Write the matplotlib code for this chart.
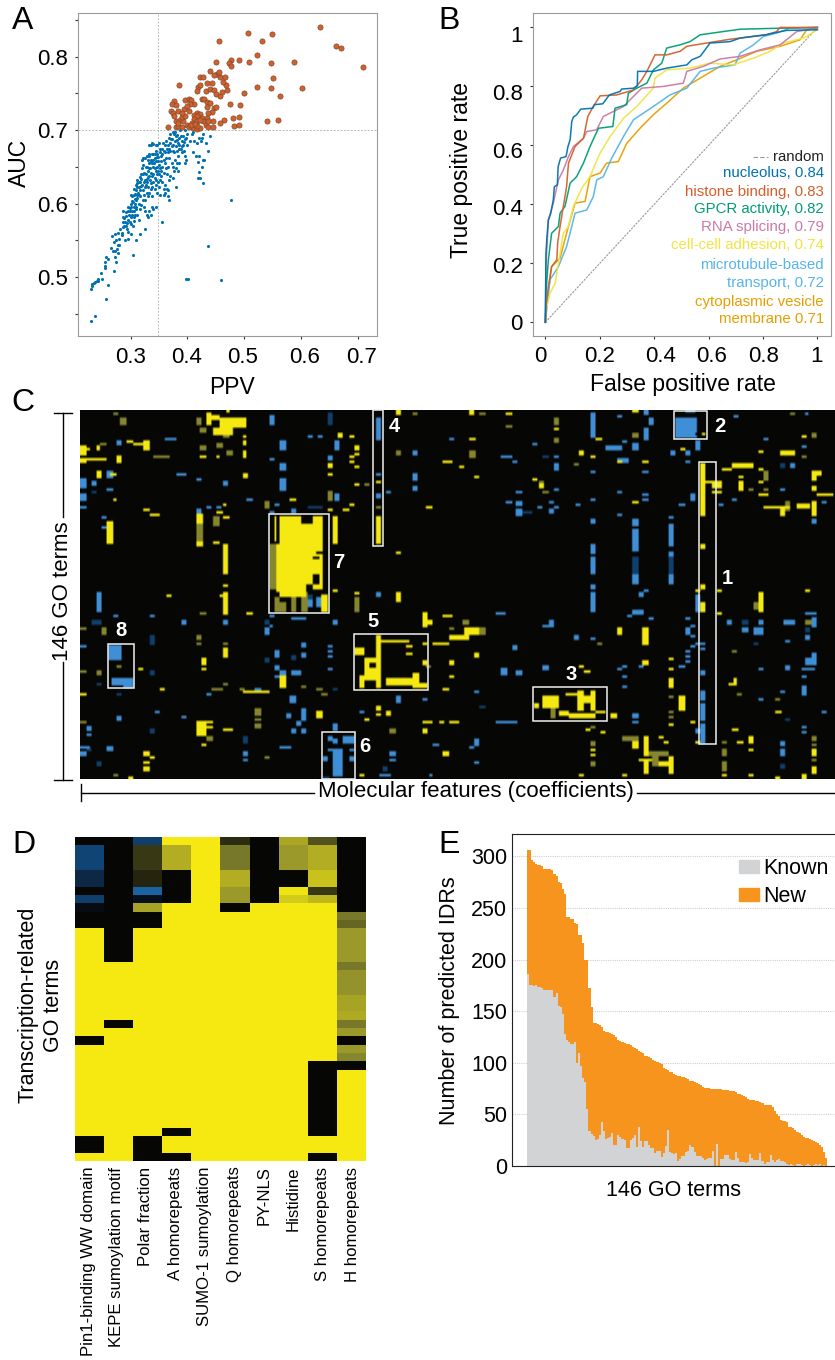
#!/usr/bin/python3

import numpy as np
import matplotlib
matplotlib.use("Agg")
import matplotlib.pyplot as plt
from matplotlib.colors import LinearSegmentedColormap
from matplotlib.lines import Line2D
from matplotlib.patches import Patch, Rectangle
from matplotlib.transforms import ScaledTranslation

W, H = 835, 1360

# panel A, (ppv, auc)
orange_points = [
    (.634, .841), (.662, .814), (.671, .812), (.710, .786), (.506, .833), (.549, .831), (.455, .822), (.531, .822),
    (.523, .803), (.451, .793), (.477, .796), (.473, .792), (.477, .788), (.491, .796), (.508, .793), (.547, .791),
    (.588, .793), (.550, .771), (.523, .759), (.547, .757), (.601, .757), (.563, .747), (.500, .751), (.475, .735),
    (.493, .734), (.480, .716), (.491, .718), (.482, .706), (.491, .707), (.541, .712), (.560, .714), (.465, .714),
    (.458, .710), (.385, .762), (.440, .780), (.422, .772), (.428, .772), (.418, .759), (.422, .762), (.434, .764),
    (.443, .764), (.416, .753), (.433, .754), (.440, .756), (.447, .755), (.450, .749), (.458, .747), (.461, .752),
    (.470, .755), (.468, .762), (.462, .766), (.458, .772), (.467, .772), (.452, .777), (.446, .775), (.455, .779),
    (.425, .742), (.429, .743), (.434, .739), (.440, .737), (.435, .731), (.446, .730), (.450, .731), (.443, .725),
    (.437, .723), (.376, .740), (.372, .735), (.380, .734), (.371, .726), (.374, .724), (.384, .726), (.376, .720),
    (.394, .729), (.396, .741), (.402, .742), (.406, .741), (.411, .736), (.405, .736), (.400, .733), (.402, .726),
    (.416, .724), (.422, .722), (.411, .721), (.416, .719), (.412, .715), (.408, .710), (.417, .712), (.425, .716),
    (.434, .716), (.445, .713), (.366, .705), (.379, .705), (.383, .706), (.390, .705), (.380, .713), (.387, .714),
    (.393, .712), (.390, .718), (.396, .719), (.384, .710), (.399, .707), (.403, .705), (.409, .703), (.417, .701),
    (.422, .703), (.428, .712), (.433, .707), (.436, .704), (.445, .704), (.436, .713), (.391, .723), (.406, .707),
    (.416, .706), (.413, .709), (.422, .714),
]
blue_points = [
    (.476, .605), (.436, .542), (.459, .496), (.397, .497), (.401, .498), (.356, .575), (.304, .530), (.270, .508),
    (.256, .470), (.237, .447), (.230, .440), (.260, .489), (.250, .497), (.247, .505), (.230, .484), (.231, .488),
    (.232, .490), (.236, .492), (.238, .493), (.240, .494), (.242, .495), (.243, .497), (.255, .520), (.255, .515),
    (.256, .527), (.260, .525), (.255, .512), (.265, .540), (.267, .556), (.268, .535), (.272, .527), (.273, .535),
    (.275, .520), (.276, .538), (.277, .533), (.270, .548), (.275, .550), (.277, .543), (.280, .543), (.280, .552),
    (.284, .557), (.285, .560), (.278, .560), (.281, .565), (.273, .558), (.287, .568), (.290, .550), (.295, .552),
    (.300, .558), (.310, .550), (.316, .558), (.325, .565), (.286, .590), (.287, .582), (.289, .580), (.290, .575),
    (.292, .570), (.294, .565), (.296, .562), (.288, .570), (.292, .583), (.295, .578), (.297, .585), (.298, .575),
    (.300, .582), (.300, .572), (.302, .590), (.304, .570), (.306, .577), (.306, .590), (.308, .585), (.295, .595),
    (.298, .590), (.300, .600), (.302, .603), (.305, .595), (.307, .600), (.309, .605), (.310, .595), (.312, .585),
    (.314, .578), (.300, .612), (.303, .610), (.306, .612), (.308, .613), (.310, .618), (.312, .608), (.314, .600),
    (.316, .592), (.305, .620), (.309, .625), (.311, .628), (.313, .615), (.315, .622), (.317, .610), (.319, .598),
    (.321, .605), (.323, .595), (.325, .590), (.328, .585), (.330, .582), (.333, .590), (.336, .585), (.340, .592),
    (.345, .596), (.338, .595), (.312, .632), (.314, .630), (.316, .636), (.318, .640), (.320, .625), (.322, .618),
    (.324, .612), (.326, .605), (.328, .615), (.330, .610), (.320, .648), (.322, .652), (.322, .662), (.317, .630),
    (.325, .632), (.327, .625), (.329, .630), (.331, .622), (.333, .615), (.335, .620), (.337, .610), (.327, .640),
    (.330, .645), (.332, .638), (.334, .632), (.336, .628), (.338, .622), (.340, .630), (.342, .620), (.344, .625),
    (.346, .615), (.329, .650), (.332, .655), (.334, .648), (.336, .642), (.338, .638), (.340, .640), (.342, .635),
    (.344, .632), (.346, .640), (.348, .630), (.350, .622), (.352, .612), (.358, .620), (.360, .615), (.333, .665),
    (.336, .660), (.338, .655), (.340, .650), (.342, .648), (.344, .645), (.346, .650), (.348, .645), (.350, .640),
    (.352, .632), (.354, .638), (.356, .630), (.360, .625), (.340, .668), (.342, .662), (.344, .658), (.346, .663),
    (.348, .658), (.350, .652), (.352, .648), (.354, .645), (.356, .650), (.358, .642), (.347, .680), (.350, .682),
    (.344, .680), (.352, .670), (.354, .665), (.356, .668), (.358, .660), (.360, .655), (.362, .648), (.364, .640),
    (.360, .680), (.362, .685), (.364, .675), (.366, .680), (.368, .690), (.370, .683), (.372, .678), (.374, .672),
    (.376, .695), (.378, .685), (.380, .678), (.382, .672), (.384, .665), (.386, .655), (.372, .655), (.374, .650),
    (.376, .645), (.378, .660), (.380, .648), (.382, .655), (.384, .645), (.368, .662), (.366, .650), (.368, .632),
    (.370, .638), (.366, .618), (.368, .605), (.364, .620), (.358, .612), (.366, .610), (.380, .623), (.374, .635),
    (.370, .695), (.374, .697), (.378, .697), (.382, .693), (.386, .690), (.390, .685), (.392, .680), (.394, .672),
    (.396, .665), (.398, .660), (.386, .680), (.388, .675), (.390, .670), (.392, .692), (.396, .688), (.400, .695),
    (.404, .685), (.408, .695), (.412, .685), (.416, .682), (.420, .690), (.424, .685), (.428, .695), (.432, .683),
    (.436, .672), (.440, .692), (.400, .680), (.410, .670), (.425, .690), (.430, .660), (.415, .665), (.420, .665),
    (.418, .657), (.428, .660), (.425, .650), (.418, .635), (.421, .643), (.422, .635), (.427, .628), (.395, .655),
    (.396, .700), (.387, .700), (.410, .698), (.333, .680), (.335, .680), (.337, .682), (.340, .681), (.332, .668),
    (.325, .662), (.320, .660), (.328, .665), (.287, .575), (.291, .588), (.293, .574), (.296, .590), (.299, .594),
    (.301, .596), (.303, .584), (.304, .602), (.305, .582), (.307, .606), (.309, .592), (.311, .612), (.312, .622),
    (.314, .612), (.316, .618), (.318, .624), (.319, .634), (.321, .640), (.323, .630), (.324, .642), (.326, .622),
    (.327, .650), (.328, .634), (.330, .636), (.331, .660), (.333, .648), (.335, .656), (.337, .668), (.339, .660),
    (.341, .655), (.343, .668), (.345, .672), (.347, .668), (.349, .664), (.351, .675), (.353, .658), (.355, .674),
    (.357, .682), (.359, .672), (.361, .670), (.363, .662), (.365, .670), (.367, .674), (.369, .672), (.371, .688),
    (.373, .688), (.375, .680), (.377, .670), (.379, .692), (.381, .686), (.383, .682), (.385, .674), (.388, .692),
    (.391, .678), (.394, .684), (.398, .690),
]

# panel B, (fpr, tpr)
roc_nucleolus = [
    (0, 0), (.002, .234), (.006, .291), (.011, .347), (.02, .37), (.029, .415), (.033, .46), (.044, .466),
    (.047, .528), (.056, .557), (.076, .562), (.083, .596), (.091, .619), (.097, .681), (.103, .696), (.115, .704),
    (.13, .723), (.174, .726), (.18, .738), (.211, .741), (.235, .771), (.275, .783), (.28, .791), (.324, .794),
    (.338, .802), (.339, .851), (.397, .851), (.446, .862), (.52, .873), (.538, .89), (.569, .902), (.587, .924),
    (.605, .947), (.679, .952), (.716, .964), (.808, .975), (.887, .99), (1, .992),
]
roc_histone = [
    (0, 0), (.002, .053), (.011, .121), (.023, .189), (.042, .212), (.045, .268), (.054, .325), (.066, .393),
    (.078, .46), (.085, .54), (.109, .596), (.14, .624), (.156, .698), (.176, .732), (.201, .768), (.262, .771),
    (.324, .788), (.354, .822), (.373, .851), (.403, .907), (.446, .907), (.495, .919), (.52, .936), (.605, .949),
    (.679, .96), (.814, .975), (.85, .986), (.863, 1), (1, 1),
]
roc_gpcr = [
    (0, 0), (.002, .098), (.011, .212), (.023, .302), (.048, .325), (.054, .37), (.072, .393), (.091, .472),
    (.115, .494), (.14, .54), (.164, .596), (.195, .658), (.248, .664), (.256, .726), (.299, .738), (.305, .777),
    (.336, .794), (.373, .811), (.397, .856), (.428, .879), (.446, .93), (.495, .941), (.532, .952), (.569, .975),
    (.63, .983), (.716, .994), (.887, .998), (1, 1),
]
roc_splicing = [
    (0, 0), (.002, .189), (.011, .347), (.029, .404), (.048, .483), (.066, .517), (.085, .562), (.103, .596),
    (.14, .624), (.152, .647), (.189, .653), (.213, .698), (.25, .715), (.287, .732), (.324, .766), (.354, .794),
    (.434, .8), (.507, .811), (.52, .851), (.581, .868), (.642, .893), (.716, .902), (.789, .924), (.863, .941),
    (.924, .986), (1, .998),
]
roc_adhesion = [
    (0, 0), (.002, .042), (.017, .098), (.036, .132), (.054, .234), (.066, .302), (.085, .325), (.103, .393),
    (.134, .455), (.164, .494), (.201, .574), (.238, .63), (.287, .692), (.336, .732), (.397, .794), (.403, .828),
    (.446, .856), (.532, .862), (.605, .879), (.691, .873), (.765, .896), (.826, .919), (.875, .947), (.949, .964),
    (1, .992),
]
roc_microtubule = [
    (0, 0), (.002, .019), (.017, .144), (.048, .189), (.078, .257), (.097, .325), (.109, .37), (.152, .381),
    (.176, .426), (.189, .483), (.213, .494), (.244, .557), (.287, .63), (.324, .687), (.397, .732), (.458, .771),
    (.52, .794), (.569, .851), (.618, .862), (.697, .873), (.716, .913), (.765, .941), (.801, .969), (.85, .981),
    (.9, .998), (1, 1),
]
roc_vesicle = [
    (0, 0), (.002, .042), (.023, .189), (.054, .217), (.078, .302), (.109, .404), (.146, .41), (.164, .494),
    (.201, .506), (.225, .54), (.268, .545), (.299, .607), (.348, .658), (.397, .704), (.446, .743), (.507, .794),
    (.569, .828), (.642, .868), (.703, .89), (.777, .919), (.863, .936), (.936, .958), (.961, .992), (1, 1),
]
roc_names = [
    "nucleolus, 0.84", "histone binding, 0.83", "GPCR activity, 0.82", "RNA splicing, 0.79",
    "cell-cell adhesion, 0.74", "microtubule-based", "transport, 0.72", "cytoplasmic vesicle", "membrane 0.71",
]

# panel C, blocks of cells as (col0, col1, row0, row1), half open
c_cols, c_rows = 227, 146
c_yellow = [
    (38, 39.5, 1, 6), (39, 42, 2, 4), (42, 50, 3, 7), (46, 50, 3, 6), (40, 46, 7, 10), (44, 45, 0, 1), (49, 50, 10, 11),
    (49, 50, 12, 14), (49, 50, 16, 19), (41, 42, 18, 19), (36, 38, 18, 19), (0, 2, 14, 18), (2, 3, 15, 16), (5, 6, 14, 16),
    (0, 8, 19, 20), (0, 2, 20, 21), (11, 12.5, 18, 21), (14, 16, 12, 13), (16, 19, 13, 14), (19, 21, 12, 16), (5, 6.5, 24, 27),
    (9, 11, 25, 26), (49, 50.5, 25, 27), (19, 21, 39, 40), (21, 24, 41, 42), (10, 11, 35, 36), (8, 10, 44, 53), (35, 37, 41, 45),
    (35, 37, 52, 54), (41, 43, 40, 41), (43, 45, 42, 43), (43, 44, 37, 38), (40, 42, 52, 53), (43, 44.5, 53, 65), (43, 44.5, 69, 70),
    (43, 44.5, 72, 81), (42, 43, 73, 74), (26, 27.5, 73, 74), (50, 52, 80, 81), (60, 73, 42, 71), (58.5, 60, 42, 52), (59, 60, 53, 72),
    (60, 68, 71, 74), (72.5, 74.5, 73, 80), (76, 77.5, 42, 53), (76, 77.5, 71, 72), (82.5, 84, 72, 73), (95, 96.5, 72, 76), (95, 96.5, 56, 57),
    (89, 90.5, 42, 53), (89, 90.5, 28, 29), (95, 96.5, 0, 2), (74.5, 76, 21, 23), (74.5, 76, 25, 26), (77.5, 79, 9, 11), (81, 82.5, 10, 11),
    (82.5, 84, 14, 16), (82.5, 84, 17, 18), (81, 82.5, 18, 19), (81, 82.5, 20, 21), (82.5, 84, 22, 23), (82.5, 84, 29, 30), (81, 82.5, 37, 38),
    (79, 81, 39, 40), (74.5, 76, 39, 40), (63, 65, 35, 36), (17.5, 19, 102, 103), (0, 2, 112, 113), (24, 25.5, 110, 111), (35, 38, 123, 129),
    (38, 40, 123, 124), (38, 40, 125, 126), (43, 46, 126, 127), (36.5, 38, 132, 133), (19, 21, 135, 137), (21, 22.5, 137, 138), (19, 21, 139, 140),
    (19, 21, 141, 143), (14.5, 16, 145, 146), (36.5, 38, 98, 101), (36.5, 38, 102, 103), (43, 44.5, 94, 98), (49, 57, 111, 112), (60, 62, 105, 110),
    (71, 73, 119, 122), (89, 90.5, 117, 119), (89, 90.5, 120, 121), (85.5, 87, 122, 123), (92, 93.5, 119, 121), (84, 85.5, 144, 145),
    (89, 90.5, 89, 110), (85.5, 89, 98, 107), (82.5, 85.5, 94, 97), (90, 99, 91, 92), (92, 102, 106, 109), (98, 100, 93, 94), (98, 100, 96, 97),
    (100, 102, 104, 110), (84, 85.5, 105, 110), (103, 104.5, 92, 93), (103, 104.5, 99, 101), (102, 104.5, 108, 110),
    (117, 118.5, 0, 2), (128, 130, 1, 2), (142.5, 144, 7, 8), (166, 168, 0, 1), (117, 119, 11, 12), (109, 112, 20, 21), (114, 115.5, 22, 23),
    (118.5, 120, 26, 27), (104, 106, 38, 39), (136, 137.5, 27, 28), (138, 139.5, 29, 31), (150, 151.5, 16, 18), (153.5, 155, 18, 19), (155, 157, 11, 12),
    (161.5, 163, 20, 21), (169, 171, 20, 21), (166, 168, 36, 37), (180.5, 182, 15, 16), (186.5, 188, 9, 10), (186.5, 188, 21, 42), (188, 191, 28, 29),
    (190, 193, 28, 31), (190, 193, 32, 33), (186.5, 188, 53, 55), (186.5, 188, 69, 71), (185, 186.5, 71, 72), (191.5, 193, 71, 72), (186.5, 188, 76, 80),
    (191.5, 193, 80, 81), (196, 202.5, 21, 23), (193, 196, 23, 24), (198, 199.5, 26, 27), (198, 199.5, 28, 32), (204, 205.5, 23, 24), (204, 205.5, 28, 29),
    (204, 207, 33, 34), (204, 205.5, 16, 17), (205.5, 213.5, 38, 39), (210.5, 212, 38, 42), (215.5, 219.5, 37, 39), (220, 221.5, 36, 42), (210.5, 215, 16, 18),
    (220, 223, 24, 26), (220, 221.5, 26, 28), (220, 221.5, 30, 32), (221.5, 226.5, 33, 34), (217, 218.5, 10, 11), (103, 104.5, 80, 86), (104.5, 106, 83, 85),
    (109, 112, 81, 82), (111, 117, 89, 91), (115.5, 120, 86, 89), (106, 111, 92, 93), (118.5, 120, 96, 98), (111, 112.5, 99, 101), (111, 112.5, 105, 106),
    (109, 111, 110, 111), (161.5, 163, 86, 89), (169, 171, 86, 93), (169, 171, 99, 101), (150, 151.5, 101, 102), (151.5, 153.5, 103, 104),
    (139, 144, 113, 118), (144, 147, 119, 121), (147, 155, 120, 122), (149.5, 151.5, 111, 119), (153.5, 155, 111, 119), (151.5, 153.5, 113, 116),
    (155, 158, 119, 120), (146, 149.5, 112, 113), (136.5, 138, 116, 118), (159.5, 161.5, 120, 122), (103, 106, 123, 124), (108, 109.5, 123, 124),
    (111, 114, 123, 124), (103, 104.5, 126, 128), (109, 111, 135, 137), (152, 153.5, 126, 127), (156.5, 158, 127, 128), (153.5, 155, 134, 135),
    (153.5, 155, 136, 137), (150, 151.5, 144, 145), (163, 164.5, 144, 145), (166, 168, 131, 134), (169.5, 171, 129, 137), (168, 172, 138, 139),
    (169.5, 171, 139, 144), (174, 177, 139, 141), (177, 178.5, 137, 144), (174, 175.5, 129, 130), (175.5, 177, 131, 132), (177, 178.5, 98, 99),
    (177, 178.5, 102, 103), (177, 178.5, 106, 110), (180, 182, 113, 119), (177, 178.5, 124, 125), (183.5, 185, 123, 124), (185, 186.5, 131, 132),
    (196.5, 197.5, 106, 108), (195, 197.5, 108, 109), (204, 205.5, 72, 80), (218, 219.5, 71, 72), (209, 211, 119, 120), (196, 198, 126, 127),
    (197.5, 199.5, 131, 132), (201, 202.5, 129, 132), (201, 202.5, 134, 135), (201, 202.5, 144, 145), (193, 194.5, 144, 145), (209, 210.5, 145, 146),
    (220, 221.5, 134, 137), (220, 221.5, 141, 144), (217, 218.5, 144, 146),
]
c_olive = [
    (43, 45, 9, 11), (35, 36.5, 3, 6), (36, 38, 7, 9), (36, 38, 14, 16), (41, 43, 13, 15), (44, 46, 16, 18), (12, 14, 3, 6), (10, 11.5, 1, 2), (6, 8, 13, 14),
    (22, 27, 18, 19), (35, 37, 45, 52), (40, 42, 42, 46), (36, 38, 80, 81), (57, 59, 53, 71), (58.5, 62, 74, 80), (63.5, 65, 71, 80), (66.5, 68.5, 72, 80),
    (82.5, 84, 74, 80), (95, 96.5, 16, 18), (89, 90.5, 38, 39), (100, 101.5, 1, 2), (74.5, 76, 32, 36), (55.5, 57, 36, 39), (85.5, 87, 29, 30), (0, 2, 86, 87),
    (6.5, 8, 86, 89), (0, 2, 103, 104), (5, 6.5, 103, 105), (11, 12.5, 101, 102), (38, 40, 129, 131), (0, 2, 123, 124), (10, 11.5, 144, 145), (35, 36.5, 89, 91),
    (35, 36.5, 92, 93), (43, 44.5, 92, 93), (43, 44.5, 108, 109), (39.5, 43, 110, 111), (48, 49.5, 110, 111), (66.5, 68, 109, 110), (71, 73, 110, 111),
    (72.5, 74.5, 112, 113), (52.5, 54.5, 118, 121), (52.5, 54.5, 122, 123), (52.5, 54.5, 124, 126), (55.5, 57, 137, 138), (93, 95, 126, 128), (141.5, 143, 118, 122),
    (120, 122, 1, 2), (128, 130, 6, 7), (142.5, 144, 3, 6), (142.5, 144, 11, 13), (166, 168, 9, 11), (117, 119, 16, 19), (138, 139.5, 28, 29), (139, 141, 32, 33),
    (148.5, 150, 21, 22), (201, 202.5, 31, 32), (205.5, 207, 24, 28), (205.5, 207, 31, 32), (212, 213.5, 36, 40), (213.5, 215, 1, 2), (220, 221.5, 9, 11),
    (217, 218.5, 18, 19), (186.5, 188, 76, 80), (120, 122, 86, 89), (111, 112.5, 86, 87), (115, 117, 83, 85), (155.5, 157, 92, 93), (104, 105.5, 101, 102),
    (163, 168, 129, 131), (171, 177, 135, 137), (172, 174, 137, 141), (177, 178.5, 113, 114), (177, 178.5, 119, 120), (177, 178.5, 121, 122), (153.5, 155, 125, 126),
    (153.5, 155, 131, 133), (153.5, 155, 139, 141), (202.5, 204, 76, 79), (218, 221, 83, 85), (193, 194.5, 131, 132), (193, 194.5, 134, 137), (193, 194.5, 139, 143),
    (220, 221.5, 129, 131), (220, 221.5, 132, 133), (220, 221.5, 138, 139), (196, 197.5, 95, 96), (197.5, 199, 112, 113), (209, 210.5, 114, 115),
]
c_dark = [
    (74.5, 76, 1, 6), (73, 75, 145, 146), (68.5, 73, 38, 39), (3.5, 6.5, 83, 85), (3.5, 5, 32, 33), (21, 22.5, 89, 93), (55.5, 57, 83, 85), (55.5, 57, 98, 100),
    (63.5, 65, 97, 99), (21, 22.5, 103, 105), (5, 6.5, 108, 109), (11, 12.5, 112, 113), (76, 77.5, 110, 111), (49, 50.5, 129, 132), (21, 22.5, 126, 128),
    (2, 3.5, 134, 135), (5, 6.5, 139, 141), (91, 92.5, 141, 143), (68.5, 70, 73, 78), (139, 141, 18, 19), (133, 136, 40, 41), (166, 168, 58, 65),
    (177, 178.5, 58, 65), (120, 122, 117, 118), (199, 201, 83, 85), (218, 219.5, 86, 88), (202.5, 204, 92, 93), (210.5, 212, 21, 23), (210.5, 212, 140, 142),
    (212, 213.5, 122, 123),
]
c_blue = [
    (57, 58.5, 2, 6), (60, 62, 12, 16), (60, 62, 21, 24), (60, 62, 27, 32), (57, 58.5, 19, 20), (76.5, 78, 12, 16), (74.5, 76, 18, 20), (76.5, 78, 33, 36),
    (68.5, 70, 10, 11), (71.5, 73, 10, 11), (89, 90.5, 3, 12), (89, 90.5, 25, 26), (89, 90.5, 33, 35), (100, 101.5, 16, 18), (100, 101.5, 25, 28), (100, 101.5, 30, 32),
    (92, 93.5, 32, 33), (0, 2, 27, 31), (0, 2, 33, 36), (0, 2, 38, 39), (3.5, 5, 28, 30), (8, 10, 24, 27), (8, 10, 31, 32), (11, 12.5, 12, 14), (29, 32, 25, 26),
    (25.5, 29, 11, 12), (35, 36.5, 27, 28), (43, 44.5, 28, 30), (50, 52, 35, 36), (35, 36.5, 39, 41), (38, 39.5, 38, 39), (41, 42.5, 38, 39), (58.5, 60, 37, 38),
    (57, 58.5, 40, 41), (63.5, 65, 39, 41), (6.5, 8, 42, 43), (6.5, 8.5, 46, 47), (5, 6.5, 72, 80), (10, 11.5, 81, 82), (21, 22.5, 81, 82), (30.5, 32, 83, 85),
    (43, 44.5, 83, 85), (55.5, 57, 86, 89), (57, 58, 85, 86), (57, 58.5, 81, 82), (63.5, 68, 82, 83), (76, 77.5, 83, 85), (89, 90.5, 72, 74), (0, 2, 93, 94),
    (8.5, 12.5, 93, 99), (9.5, 16, 106, 109), (13, 16, 109, 110), (58.5, 60, 95, 98), (58.5, 60, 101, 103), (58.5, 60, 105, 106), (60, 62, 103, 105), (63.5, 66.5, 103, 105),
    (66.5, 68, 92, 94), (66.5, 68, 96, 98), (74.5, 76, 93, 94), (74.5, 76, 95, 96), (74.5, 76, 97, 98), (74.5, 76, 102, 103), (38, 39.5, 112, 113), (52.5, 54.5, 110, 111),
    (63, 65, 113, 116), (95, 96.5, 113, 116), (66.5, 68, 118, 123), (65, 66.5, 123, 125), (63.5, 65, 126, 128), (66.5, 68, 126, 128), (62, 63.5, 120, 122),
    (11, 12.5, 121, 123), (22.5, 24, 119, 120), (30.5, 32, 121, 122), (76, 77.5, 124, 127), (2, 3.5, 125, 127), (2, 3.5, 128, 129), (0, 3, 133, 134), (0, 2, 135, 137),
    (8, 10, 133, 135), (49, 50.5, 135, 137), (49, 50.5, 138, 139), (60, 63.5, 133, 134), (74.5, 76, 129, 131), (79, 82.5, 129, 132), (76, 77.5, 130, 132), (74.5, 79, 134, 135),
    (76, 79, 135, 145), (73, 74.5, 137, 139), (81, 82.5, 134, 135), (81, 82.5, 137, 139), (93, 95, 135, 137), (93, 95, 138, 139), (90, 93.5, 144, 145), (84, 85.5, 119, 120),
    (68.5, 70, 75, 78), (71, 72.5, 74, 78),
    (153.5, 155, 1, 11), (161.5, 163, 2, 3), (169.5, 171, 0, 2), (171, 172.5, 3, 6), (169.5, 171, 7, 12), (166, 168, 13, 16), (158, 163, 14, 16), (163, 164.5, 12, 13),
    (111, 112.5, 11, 12), (136, 137.5, 13, 14), (126.5, 130, 18, 19), (130, 131.5, 20, 21), (142.5, 144, 18, 19), (142.5, 144, 21, 24), (153.5, 155, 24, 25), (161.5, 165, 19, 21),
    (169, 171, 24, 25), (142.5, 144, 31, 32), (131, 133, 32, 33), (128, 130, 36, 37), (131, 133, 36, 38), (131, 133, 39, 42), (137.5, 139, 38, 39), (141, 142.5, 36, 37),
    (141, 142.5, 39, 41), (142.5, 144, 38, 39), (149, 150.5, 37, 38), (153.5, 155, 35, 36), (161.5, 163, 32, 33), (161.5, 163, 41, 42), (169, 171, 33, 34), (169, 171, 35, 36),
    (183.5, 185, 33, 36), (180, 182, 37, 38), (153.5, 155, 43, 45), (153.5, 155, 53, 57), (153.5, 155, 58, 65), (153.5, 155, 69, 71), (153.5, 155, 72, 80), (166, 168, 43, 46),
    (166, 168, 47, 56), (166, 168, 65, 69), (168, 169.5, 72, 74), (169.5, 171, 71, 72), (177, 178.5, 42, 43), (177, 178.5, 45, 54), (177, 178.5, 56, 58), (177, 178.5, 65, 69),
    (185, 186.5, 73, 80), (166, 169.5, 79, 81), (164.5, 166, 81, 82), (171, 172.5, 82, 83), (125, 128, 80, 81), (139, 142.5, 85, 86), (141, 142.5, 83, 85), (148.5, 150, 89, 91),
    (153.5, 155, 90, 91), (130, 131.5, 93, 95), (126.5, 128.5, 102, 105), (131, 133, 103, 105), (139, 141, 101, 103), (182, 183.5, 86, 89), (183.5, 185, 85, 86), (182, 183.5, 82, 83),
    (183.5, 185, 89, 90), (185, 186.5, 92, 93), (183.5, 185, 93, 94), (182, 183.5, 95, 96), (182, 183.5, 97, 98), (182, 183.5, 99, 100), (186.5, 188, 92, 93), (186.5, 188, 94, 95),
    (186.5, 188, 103, 105), (186.5, 188, 111, 115), (186.5, 188, 116, 123), (186.5, 188, 124, 132), (185, 186.5, 126, 128), (180, 182, 101, 102), (163, 164.5, 101, 102),
    (161.5, 163, 102, 103), (163, 164.5, 105, 106), (163, 164.5, 109, 110), (168, 169.5, 101, 102), (118.5, 120, 111, 112), (125, 131.5, 123, 124), (166, 168, 120, 122),
    (166, 168, 123, 124), (103, 104.5, 114, 115), (118.5, 120, 130, 133), (117, 118.5, 133, 134), (106, 108, 132, 133), (118.5, 120, 139, 140), (105, 106, 144, 145),
    (194.5, 196, 83, 85), (199, 201, 86, 88), (202.5, 205.5, 86, 89), (204, 205.5, 83, 85), (211.5, 215, 83, 85), (212, 213.5, 91, 92), (218, 221.5, 80, 81), (220, 221.5, 82, 86),
    (218, 219.5, 89, 91), (218, 221.5, 98, 101), (220, 221.5, 96, 98), (217, 221, 102, 103), (212, 213.5, 101, 103), (204, 205.5, 102, 103), (217, 218.5, 105, 106), (217, 218.5, 109, 113),
    (204, 205.5, 114, 115), (210.5, 212, 111, 112), (223, 224.5, 119, 120), (217, 218.5, 125, 126), (217, 218.5, 127, 128), (210.5, 212, 131, 133), (210.5, 212, 134, 137),
    (213.5, 215, 21, 23), (205.5, 207, 11, 12), (210.5, 212, 31, 32), (223, 224.5, 36, 37), (220, 221.5, 43, 45), (196, 197.5, 35, 36), (192, 193.5, 37, 38), (196.5, 198, 2, 3),
    (218, 219, 1, 2), (217, 218.5, 14, 15), (179, 185.5, 3, 11), (182, 185, 0, 1), (185, 186.5, 12, 16), (177.5, 179, 16, 18), (182, 183.5, 16, 18), (182, 183.5, 20, 21),
]
c_black = [
    (66.5, 70, 42, 45), (70, 72, 58, 59), (71, 73, 56, 57), (70, 72, 65, 69), (68, 70, 69, 71), (59, 60, 42, 53), (58.5, 60, 72, 74), (60, 62, 74, 76), (87, 89, 100, 102),
    (185, 186, 9, 10), (185.5, 187, 8, 11),
]
c_boxes = [
    (56.7, 74.8, 41, 80.5), (88.1, 91, 0, 54), (8.5, 16.3, 92.5, 110), (82.4, 104.6, 88.7, 110.6),
    (72.8, 82.7, 127.3, 146), (136.2, 158.5, 109.5, 123), (178.6, 188.6, 0.3, 11.6), (186, 191.2, 20.7, 132.3),
]
c_box_numbers = ["7", "4", "8", "5", "6", "3", "2", "1"]

# panel D, one list per feature, top row first
d_features = [
    "Pin1-binding WW domain", "KEPE sumoylation motif", "Polar fraction", "A homorepeats", "SUMO-1 sumoylation",
    "Q homorepeats", "PY-NLS", "Histidine", "S homorepeats", "H homorepeats",
]
d_pin1 = [0, -.45, -.45, -.45, -.25, -.25, 0, -.4, -.05, 0, 0] + [1] * 13 + [0] + [1] * 11 + [0, 0] + [1]
d_kepe = [0] * 15 + [1] * 7 + [0] + [1] * 16
d_polar = [-.4, .2, .2, .2, .12, .12, -.7, -.08, .65, 0, 0] + [1] * 25 + [0] * 3
d_a = [1, .7, .7, .7] + [0] * 4 + [1] * 27 + [0] + [1, 1] + [0]
d_sumo = [1] * 39
d_q = [.15, .45, .45, .45, .7, .7, .6, .6, 0] + [1] * 30
d_pynls = [0] * 8 + [1] * 31
d_his = [.67, .6, .6, .6, 0, 0, .97, .85] + [1] * 31
d_s = [.3, .7, .7, .7, .8, .8, .2, .75] + [1] * 19 + [0] * 9 + [1, 1] + [0]
d_h = [0] * 9 + [.45, .38, .6, .6, .6, .6, .45, .57, .57, .57, .65, .65, .68, .45, .6, 0, .6, .5, 0] + [1] * 11

# panel E
e_total = [
    306, 306, 296, 294, 293, 292, 292, 291, 288, 288, 288, 288, 287, 283, 281, 275, 274, 268, 263, 241,
    241, 239, 239, 235, 234, 224, 224, 216, 200, 200, 172, 154, 139, 139, 138, 137, 135, 131, 130, 130,
    129, 128, 127, 125, 122, 121, 120, 119, 118, 118, 117, 115, 114, 113, 111, 110, 109, 107, 107, 106,
    105, 103, 102, 101, 100, 99, 95, 94, 93, 91, 91, 89, 88, 87, 87, 86, 86, 85, 84, 82,
    82, 81, 80, 79, 78, 77, 76, 76, 76, 75, 75, 75, 75, 75, 75, 74, 74, 74, 73, 73,
    73, 72, 70, 70, 69, 68, 67, 65, 64, 64, 64, 63, 63, 62, 61, 59, 59, 59, 59, 57,
    53, 50, 48, 45, 44, 44, 43, 38, 38, 37, 35, 33, 32, 30, 28, 27, 27, 26, 25, 24,
    23, 22, 20, 18, 14, 8,
]
e_known = [
    186, 175, 175, 174, 175, 173, 173, 172, 170, 170, 170, 170, 170, 164, 168, 155, 154, 147, 128, 122,
    120, 118, 118, 120, 100, 109, 97, 85, 81, 55, 34, 31, 29, 25,
    26, 30, 43, 34, 26, 27, 28, 32, 20, 20, 30, 28, 26, 25, 17, 17, 25, 27, 30, 18,
    38, 24, 18, 24, 24, 20, 17, 17, 13, 15, 15, 9, 13, 19, 35, 14, 13, 12, 13, 5,
    7, 10, 10, 14, 15, 20, 18, 14, 10, 10, 10, 8, 6, 7, 8, 8, 15, 0, 21, 0,
    7, 7, 11, 11, 7, 6, 6, 14, 8, 4, 4, 4, 3, 4, 12, 8, 6, 6, 6, 13,
    5, 2, 4, 4, 11, 6, 4, 6, 7, 5, 5, 4, 2, 1, 2, 1, 0, 2, 2, 1,
    0, 1, 2, 1, 0, 1, 2, 1, 2, 0, 1, 0,
]

GREY = "#9a9a9a"
plt.rcParams["font.family"] = ["Liberation Sans", "DejaVu Sans"]
plt.rcParams["font.size"] = 16
plt.rcParams["axes.labelsize"] = 16.5

heat_cmap = LinearSegmentedColormap.from_list(
    "blueblackyellow",
    [(0, "#3f8fd6"), (.2, "#0d5490"), (.3, "#123f6b"), (.5, "#050505"), (.75, "#85852f"), (1, "#f5e911")],
)


def axes_px(fig, left, top, right, bottom):
    return fig.add_axes([left / W, 1 - bottom / H, (right - left) / W, (bottom - top) / H])


def text_px(fig, x, y, s, **kw):
    kw.setdefault("ha", "center")
    kw.setdefault("va", "center")
    return fig.text(x / W, 1 - y / H, s, **kw)


def line_px(fig, xs, ys, **kw):
    kw.setdefault("color", "black")
    kw.setdefault("lw", 1)
    fig.add_artist(Line2D([x / W for x in xs], [1 - y / H for y in ys], transform=fig.transFigure, **kw))


def axis_label(fig, axis, s, x, y):
    axis.set_label_text(s)
    axis.set_label_coords(x / W, 1 - y / H, transform=fig.transFigure)
    axis.label.set(ha="center", va="center")


def shift_labels(fig, labels, dx=None, dy=None):
    for i, lab in enumerate(labels):
        ox = dx[i] if dx else 0
        oy = dy[i] if dy else 0
        lab.set_transform(lab.get_transform() + ScaledTranslation(ox / 100, oy / 100, fig.dpi_scale_trans))


def plot_scatter(fig):
    ax = axes_px(fig, 78, 12.7, 376.7, 336.3)
    ppv, auc = np.array(blue_points).T
    ax.scatter(ppv, auc, s=5, color="#0072b2", linewidths=0, zorder=3)
    ppv, auc = np.array(orange_points).T
    ax.scatter(ppv, auc, s=14, color="#d2602b", edgecolors="#7d4a30", linewidths=.5, zorder=4)
    ax.axvline(.3487, color="#bbbbbb", lw=.7, ls=(0, (2, 1.5)), zorder=1)
    ax.axhline(.7, color="#bbbbbb", lw=.7, ls=(0, (2, 1.5)), zorder=1)
    ax.set_xlim(.2072, .7335)
    ax.set_ylim(.4193, .860)
    ax.set_xticks([.3, .4, .5, .6, .7])
    ax.set_xticklabels(["0.3", "0.4", "0.5", "0.6", "0.7"])
    ax.set_yticks([.5, .6, .7, .8])
    ax.set_yticklabels(["0.5", "0.6", "0.7", "0.8"])
    ax.set_yticks([.45, .55, .65, .75, .85], minor=True)
    ax.tick_params(axis="both", length=2, width=.8, color="#333333", pad=5.5)
    ax.tick_params(axis="y", which="minor", length=2, width=.8, color="#333333")
    shift_labels(fig, ax.get_xticklabels(), dx=[0, -.7, -1.7, 3.3, 4])
    for sp in ax.spines.values():
        sp.set_color(GREY)
    axis_label(fig, ax.xaxis, "PPV", 232, 388)
    axis_label(fig, ax.yaxis, "AUC", 19, 163)
    text_px(fig, 23, 21, "A", fontsize=23)


def plot_roc(fig):
    ax = axes_px(fig, 532.7, 12.7, 831, 336)
    ax.plot([0, 1], [0, 1], color="#999999", lw=.8, ls=(0, (2, 1)))
    curves = [
        (roc_vesicle, "#e69f00"), (roc_microtubule, "#56b4e9"), (roc_adhesion, "#f0e442"), (roc_splicing, "#cc79a7"),
        (roc_gpcr, "#009e73"), (roc_histone, "#d55e2b"), (roc_nucleolus, "#0072b2"),
    ]
    for pts, col in curves:
        fpr, tpr = np.array(pts).T
        ax.plot(fpr, tpr, color=col, lw=1.1, alpha=.95)
    ax.set_xlim(-.0466, 1.05)
    ax.set_ylim(-.0465, 1.05)
    ticks = [0, .2, .4, .6, .8, 1]
    names = ["0", "0.2", "0.4", "0.6", "0.8", "1"]
    ax.set_xticks(ticks)
    ax.set_xticklabels(names)
    ax.set_yticks(ticks)
    ax.set_yticklabels(names)
    ax.tick_params(axis="both", length=2, width=.8, color="#333333", pad=5)
    shift_labels(fig, ax.get_xticklabels(), dx=[-5.3, 0, 6.3, 3.3, 1, -1.3])
    shift_labels(fig, ax.get_yticklabels(), dy=[0, -1.7, -2.7, -4.3, -5.7, -6.7])
    for sp in ax.spines.values():
        sp.set_color(GREY)
    axis_label(fig, ax.xaxis, "False positive rate", 683, 385)
    axis_label(fig, ax.yaxis, "True positive rate", 462, 170)
    text_px(fig, 449, 21, "B", fontsize=23)

    # legend is hand placed, the lines wrap like in a figure panel
    text_px(fig, 824, 156.7, "random", ha="right", fontsize=10.8, color="#222222")
    line_px(fig, [752.7, 768.3], [157.3, 157.3], color="#999999", lw=.8, ls=(0, (4, 2)))
    cols = ["#0072b2", "#d55e2b", "#009e73", "#cc79a7", "#f0e442", "#56b4e9", "#56b4e9", "#e69f00", "#e69f00"]
    ys = [172.7, 192.3, 209.3, 226.7, 245.3, 264.7, 283.3, 301.7, 319.3]
    for s, col, y in zip(roc_names, cols, ys):
        text_px(fig, 824, y, s, ha="right", fontsize=10.8, color=col)


def plot_heat(fig):
    ax = axes_px(fig, 80, 410, 835, 779)
    mat = np.zeros((c_rows, c_cols * 2))
    for cells, val in [(c_olive, .5), (c_dark, -.4), (c_blue, -1), (c_yellow, 1), (c_black, 0)]:
        for c0, c1, r0, r1 in cells:
            mat[int(r0):int(r1), int(c0 * 2):int(c1 * 2)] = val
    ax.imshow(mat, cmap=heat_cmap, vmin=-1, vmax=1, aspect="auto", interpolation="bilinear",
              extent=(0, c_cols, c_rows, 0))
    for x0, x1, y0, y1 in c_boxes:
        ax.add_patch(Rectangle((x0, y0), x1 - x0, y1 - y0, fill=False, edgecolor="#f0f0f0", lw=1.1, clip_on=False))
    ax.set_xticks([])
    ax.set_yticks([])
    for sp in ax.spines.values():
        sp.set_visible(False)
    num_xy = [(339, 563), (394, 427), (121, 631), (373, 622), (365, 746), (571, 675), (720, 426), (727, 578)]
    for s, (x, y) in zip(c_box_numbers, num_xy):
        text_px(fig, x, y, s, color="white", fontsize=14.5, fontweight="bold")
    text_px(fig, 23, 403, "C", fontsize=23)

    # brackets
    line_px(fig, [63, 63], [413.5, 517])
    line_px(fig, [63, 63], [662, 779.5])
    line_px(fig, [54, 72], [413.5, 413.5])
    line_px(fig, [54, 72], [779.5, 779.5])
    text_px(fig, 63, 591, "146 GO terms", rotation=90, fontsize=16)
    line_px(fig, [80.5, 80.5], [784, 801])
    line_px(fig, [80.5, 314], [793, 793])
    line_px(fig, [637, 835], [793, 793])
    text_px(fig, 476, 792, "Molecular features (coefficients)", fontsize=16)


def plot_transcription(fig):
    ax = axes_px(fig, 75, 837, 366, 1161)
    mat = np.array([d_pin1, d_kepe, d_polar, d_a, d_sumo, d_q, d_pynls, d_his, d_s, d_h], dtype=float).T
    ax.imshow(mat, cmap=heat_cmap, vmin=-1, vmax=1, aspect="auto", interpolation="nearest")
    ax.set_xticks(range(len(d_features)))
    ax.set_xticklabels(d_features, rotation=90, fontsize=12.1)
    ax.set_yticks([])
    ax.tick_params(axis="x", length=0, pad=4)
    shift_labels(fig, ax.get_xticklabels(), dx=[-1.3, -2, -2, -1.3, -1, -.7, -.3, -.3, -.3, 1])
    for sp in ax.spines.values():
        sp.set_visible(False)
    text_px(fig, 41, 1005, "Transcription-related\nGO terms", rotation=90, fontsize=15.5, linespacing=1.3, ma="center")
    text_px(fig, 24, 845, "D", fontsize=23)


def plot_bars(fig):
    ax = axes_px(fig, 512.3, 834.3, 835, 1166)
    idx = np.arange(len(e_total))
    known = np.array(e_known)
    total = np.array(e_total)
    ax.bar(idx, known, width=1, align="edge", color="#d1d3d4", linewidth=0, antialiased=False, label="Known", zorder=2)
    ax.bar(idx, total - known, bottom=known, width=1, align="edge", color="#f7941e", linewidth=0, antialiased=False,
           label="New", zorder=2)
    ax.set_xlim(-7, 149.7)
    ax.set_ylim(0, 321.3)
    ax.set_yticks([0, 50, 100, 150, 200, 250, 300])
    ax.set_xticks([])
    ax.grid(axis="y", color="#cfcfcf", lw=.8, ls=(0, (1, 1)), zorder=1)
    ax.set_axisbelow(True)
    ax.tick_params(axis="y", length=0, pad=3.6, labelsize=15.5)
    ax.spines["right"].set_visible(False)
    for name in ["left", "top", "bottom"]:
        ax.spines[name].set_color("#222222")
    axis_label(fig, ax.xaxis, "146 GO terms", 673, 1191)
    axis_label(fig, ax.yaxis, "Number of predicted IDRs", 450, 1001)
    ax.xaxis.label.set_size(15.5)
    ax.yaxis.label.set_size(15.5)
    handles = [Patch(color="#d1d3d4", label="Known"), Patch(color="#f7941e", label="New")]
    ax.legend(handles=handles, loc="upper left", bbox_to_anchor=(739 / W, 1 - 858.5 / H), bbox_transform=fig.transFigure,
              frameon=False, fontsize=15.5, borderpad=0, borderaxespad=0, handlelength=.93, handleheight=.55,
              handletextpad=.2, labelspacing=.3)
    text_px(fig, 449, 845, "E", fontsize=23)


def main():
    fig = plt.figure(figsize=(W / 100, H / 100), dpi=100, facecolor="white")
    plot_scatter(fig)
    plot_roc(fig)
    plot_heat(fig)
    plot_transcription(fig)
    plot_bars(fig)
    fig.savefig("out.png", dpi=100)


if __name__ == "__main__":
    main()
